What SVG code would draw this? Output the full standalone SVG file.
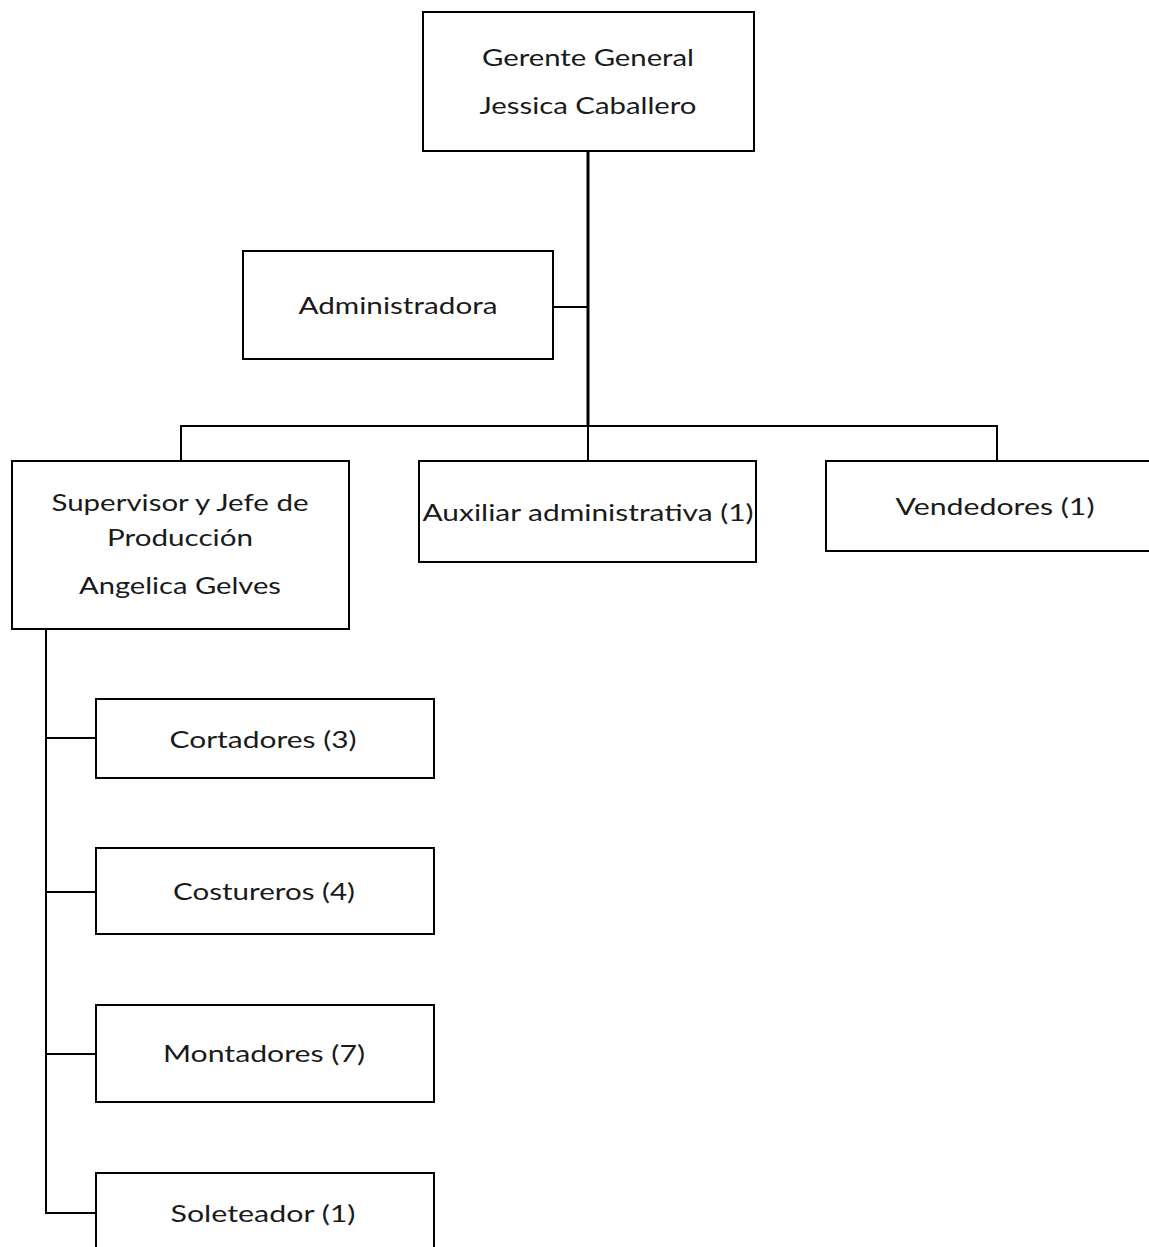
<svg xmlns="http://www.w3.org/2000/svg" width="1149" height="1247" viewBox="0 0 1149 1247">
<style>
.box{fill:#fff;stroke:#000;stroke-width:2}
.t{font-family:Lato,"Open Sans","Liberation Sans",sans-serif;font-size:24px;fill:#1a1a1a;text-anchor:middle}
.c{fill:none;stroke:#000;stroke-width:2}
.trunk{fill:none;stroke:#000;stroke-width:3}
</style>
<rect width="1149" height="1247" fill="#fff"/>
<g id="connectors">
<line class="trunk" x1="588" y1="151" x2="588" y2="426"/>
<line class="c" x1="553" y1="307" x2="588" y2="307"/>
<polyline class="c" points="181,461 181,426 997,426 997,461"/>
<line class="c" x1="588" y1="426" x2="588" y2="461"/>
<polyline class="c" points="46,629 46,1213 96,1213"/>
<line class="c" x1="46" y1="738" x2="96" y2="738"/>
<line class="c" x1="46" y1="892" x2="96" y2="892"/>
<line class="c" x1="46" y1="1054" x2="96" y2="1054"/>
</g>
<g id="gerente">
<rect class="box" x="423" y="12" width="331" height="139"/>
<text class="t" x="588" y="66" textLength="212" lengthAdjust="spacingAndGlyphs">Gerente General</text>
<text class="t" x="588" y="114" textLength="217" lengthAdjust="spacingAndGlyphs">Jessica Caballero</text>
</g>
<g id="administradora">
<rect class="box" x="243" y="251" width="310" height="108"/>
<text class="t" x="398" y="314" textLength="199" lengthAdjust="spacingAndGlyphs">Administradora</text>
</g>
<g id="supervisor">
<rect class="box" x="12" y="461" width="337" height="168"/>
<text class="t" x="180" y="511" textLength="257" lengthAdjust="spacingAndGlyphs">Supervisor y Jefe de</text>
<text class="t" x="180" y="546" textLength="146" lengthAdjust="spacingAndGlyphs">Producción</text>
<text class="t" x="180" y="594" textLength="202" lengthAdjust="spacingAndGlyphs">Angelica Gelves</text>
</g>
<g id="auxiliar">
<rect class="box" x="419" y="461" width="337" height="101"/>
<text class="t" x="588" y="521" textLength="331" lengthAdjust="spacingAndGlyphs">Auxiliar administrativa (1)</text>
</g>
<g id="vendedores">
<rect class="box" x="826" y="461" width="330" height="90"/>
<text class="t" x="995" y="515" textLength="199" lengthAdjust="spacingAndGlyphs">Vendedores (1)</text>
</g>
<g id="cortadores">
<rect class="box" x="96" y="699" width="338" height="79"/>
<text class="t" x="263" y="748" textLength="187" lengthAdjust="spacingAndGlyphs">Cortadores (3)</text>
</g>
<g id="costureros">
<rect class="box" x="96" y="848" width="338" height="86"/>
<text class="t" x="264" y="900" textLength="182" lengthAdjust="spacingAndGlyphs">Costureros (4)</text>
</g>
<g id="montadores">
<rect class="box" x="96" y="1005" width="338" height="97"/>
<text class="t" x="264" y="1062" textLength="202" lengthAdjust="spacingAndGlyphs">Montadores (7)</text>
</g>
<g id="soleteador">
<rect class="box" x="96" y="1173" width="338" height="90"/>
<text class="t" x="263" y="1222" textLength="185" lengthAdjust="spacingAndGlyphs">Soleteador (1)</text>
</g>
</svg>
